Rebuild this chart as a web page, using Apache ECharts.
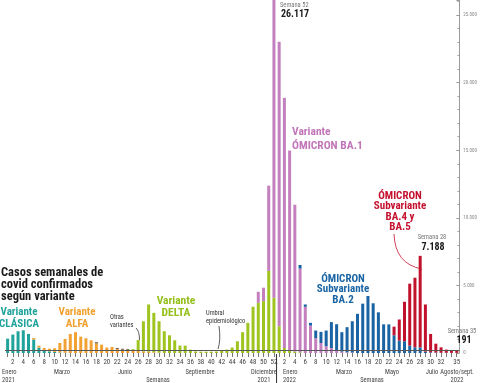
<!DOCTYPE html>
<html><head><meta charset="utf-8">
<script src="https://cdn.jsdelivr.net/npm/echarts@6/dist/echarts.min.js"></script>
<style>html,body{margin:0;padding:0;background:#fff}#c{width:480px;height:383px}</style>
</head><body><div id="c"></div>
<script>
// ---- Categories (ISO weeks) ----
const weeks2021 = ['1','2','3','4','5','6','7','8','9','10','11','12','13','14','15','16','17','18','19','20','21','22','23','24','25','26','27','28','29','30','31','32','33','34','35','36','37','38','39','40','41','42','43','44','45','46','47','48','49','50','51','52'];
const weeks2022 = ['1','2','3','4','5','6','7','8','9','10','11','12','13','14','15','16','17','18','19','20','21','22','23','24','25','26','27','28','29','30','31','32','33','34','35'];

// ---- Weekly cases by variant ----
const clasica2021 = [1060,1360,1610,1680,1410,1000,400,200,120,80, 40,20,0,0,0,0,0,0,0,0, 0,0,0,0,0,0,0,0,0,0, 0,0,0,0,0,0,0,0,0,0, 0,0,0,0,0,0,0,0,0,0, 0,0];
const clasica2022 = [0,0,0,0,0,0,0,0,0,0, 0,0,0,0,0,0,0,0,0,0, 0,0,0,0,0,0,0,0,0,0, 0,0,0,0,0];
const alfa2021 = [0,0,0,0,0,110,145,170,200,270, 700,1020,1410,1540,1210,1090,940,720,620,400, 450,300,250,220,180,150,120,100,60,30, 0,0,0,0,0,0,0,0,0,0, 0,0,0,0,0,0,0,0,0,0, 0,0];
const alfa2022 = [0,0,0,0,0,0,0,0,0,0, 0,0,0,0,0,0,0,0,0,0, 0,0,0,0,0,0,0,0,0,0, 0,0,0,0,0];
const otras2021 = [0,0,0,0,0,0,0,0,0,0, 0,0,0,0,0,0,0,70,0,0, 0,60,60,60,50,30,0,0,0,0, 0,0,0,0,0,0,0,0,0,0, 0,0,0,0,0,0,0,0,0,0, 0,0];
const otras2022 = [0,0,0,0,0,0,0,0,0,0, 0,0,0,0,0,0,0,0,0,0, 0,0,0,0,0,0,0,0,0,0, 0,0,0,0,0];
const delta2021 = [0,0,0,0,0,0,0,0,0,0, 0,0,0,0,0,0,0,0,0,0, 0,0,0,20,60,780,2230,3490,2910,2320, 1610,1310,940,545,545,250,120,100,100,100, 110,170,250,400,870,1540,2230,3420,3715,3840, 6070,4090];
const delta2022 = [1980,370,200,100,50,0,0,0,0,0, 0,0,0,0,0,0,0,0,0,0, 0,0,0,0,0,0,0,0,0,0, 0,0,0,0,0];
const ba1_2021 = [0,0,0,0,0,0,0,0,0,0, 0,0,0,0,0,0,0,0,0,0, 0,0,0,0,0,0,0,0,0,0, 0,0,0,0,0,0,0,0,0,0, 0,0,0,0,0,0,0,0,815,990, 6310,22027];
const ba1_2022 = [21050,18510,14780,10870,6190,3420,2030,1090,740,500, 370,200,100,50,30,0,0,0,0,0, 0,0,0,0,0,0,0,0,0,0, 0,0,0,0,0];
const ba2_2021 = [0,0,0,0,0,0,0,0,0,0, 0,0,0,0,0,0,0,0,0,0, 0,0,0,0,0,0,0,0,0,0, 0,0,0,0,0,0,0,0,0,0, 0,0,0,0,0,0,0,0,0,0, 0,0];
const ba2_2022 = [0,0,0,0,270,170,200,570,820,1160, 1920,1930,1440,1860,2320,2900,3650,4220,3680,3010, 2120,2120,1310,920,870,545,420,420,100,50, 30,20,15,12,11];
const ba45_2021 = [0,0,0,0,0,0,0,0,0,0, 0,0,0,0,0,0,0,0,0,0, 0,0,0,0,0,0,0,0,0,0, 0,0,0,0,0,0,0,0,0,0, 0,0,0,0,0,0,0,0,0,0, 0,0];
const ba45_2022 = [0,0,0,0,0,0,0,0,0,0, 0,0,0,0,0,0,0,0,0,0, 0,0,640,1560,2920,4585,5150,6768,3490,1360, 660,400,235,208,180];

const umbral = 200;
const yTicks = [0, 5000, 10000, 15000, 20000, 25000];

const FONT = '"Liberation Sans Narrow","Roboto Condensed","DejaVu Sans Condensed",sans-serif';
const categories = weeks2021.concat(weeks2022);
const nPrev = weeks2021.length;

const chart = echarts.init(document.getElementById('c'), null, {renderer: 'canvas'});

function bar(name, a, b, color) {
  return {
    name, type: 'bar', stack: 'total', data: a.concat(b), barWidth: 3,
    itemStyle: {color}, emphasis: {disabled: true}, animation: false
  };
}

const series = [
  bar('Clásica', clasica2021, clasica2022, '#1fa39b'),
  bar('Alfa', alfa2021, alfa2022, '#f2a235'),
  bar('Otras', otras2021, otras2022, '#4a3a2e'),
  bar('Delta', delta2021, delta2022, '#9fc420'),
  bar('BA.1', ba1_2021, ba1_2022, '#c47fbe'),
  bar('BA.2', ba2_2021, ba2_2022, '#1b64a3'),
  bar('BA.4/5', ba45_2021, ba45_2022, '#c1122d')
];
series[0].markLine = {
  silent: true, symbol: 'none', animation: false,
  lineStyle: {color: '#555', width: 1, type: 'solid'},
  label: {show: false},
  data: [{yAxis: umbral}]
};

function fmtThousands(v) {
  return String(v).replace(/\B(?=(\d{3})+(?!\d))/g, '.');
}

chart.setOption({
  animation: false,
  grid: {left: 5, right: 15, top: 0, bottom: 30, containLabel: false},
  xAxis: {
    type: 'category', data: categories, boundaryGap: true,
    axisLine: {show: false},
    axisTick: {show: true, interval: 0, length: 4, alignWithLabel: true, lineStyle: {color: '#777', width: 1}},
    axisLabel: {
      interval: 0, fontSize: 7, color: '#444', margin: 6, fontFamily: FONT,
      formatter: function (v, i) {
        const n = parseInt(v, 10);
        if (i < nPrev) return n % 2 === 0 ? String(n) : '';
        if (n === 35) return '35';
        return (n % 2 === 0 && n <= 32) ? String(n) : '';
      }
    }
  },
  yAxis: {
    type: 'value', position: 'right', min: 0, max: 26117, interval: 5000,
    axisLine: {show: true, lineStyle: {color: '#9a9a9a', width: 1}},
    axisTick: {show: true, inside: true, length: 3, lineStyle: {color: '#9a9a9a'}},
    minorTick: {show: true, splitNumber: 5, length: 2, lineStyle: {color: '#aaa'}},
    splitLine: {show: false},
    axisLabel: {
      fontSize: 5, color: '#888', margin: 4, fontFamily: FONT,
      formatter: function (v) { return yTicks.indexOf(v) >= 0 ? fmtThousands(v) : ''; }
    }
  },
  series: series
});

// ---- annotations ----
function T(x, y, text, size, color, opts) {
  opts = opts || {};
  return {
    type: 'text', x: x, y: y, silent: true, z: 100,
    style: {
      text: text, fill: color,
      font: (opts.bold ? 'bold ' : '') + size + 'px ' + FONT,
      textAlign: opts.align || 'left', textVerticalAlign: 'middle'
    }
  };
}
const g = [];
// title
g.push(T(1, 273, 'Casos semanales de', 12.5, '#1a1a1a', {bold: true}));
g.push(T(1, 285, 'covid confirmados', 12.5, '#1a1a1a', {bold: true}));
g.push(T(1, 297, 'según variante', 12.5, '#1a1a1a', {bold: true}));
// variant labels
const teal = '#1fa39b', orange = '#f0a02f', green = '#95bf1c', purple = '#c176b9', blue = '#1b65a5', red = '#c4122f';
g.push(T(19, 312, 'Variante', 11, teal, {bold: true, align: 'center'}));
g.push(T(19, 324, 'CLÁSICA', 11, teal, {bold: true, align: 'center'}));
g.push(T(77, 312, 'Variante', 11, orange, {bold: true, align: 'center'}));
g.push(T(77, 324, 'ALFA', 11, orange, {bold: true, align: 'center'}));
g.push(T(110, 317, 'Otras', 6.5, '#333'));
g.push(T(110, 325, 'variantes', 6.5, '#333'));
g.push(T(176, 301, 'Variante', 11.5, green, {bold: true, align: 'center'}));
g.push(T(176, 313, 'DELTA', 11.5, green, {bold: true, align: 'center'}));
g.push(T(206, 313, 'Umbral', 6.5, '#333'));
g.push(T(206, 321.5, 'epidemiológico', 6.5, '#333'));
g.push(T(292, 132, 'Variante', 11.5, purple, {bold: true}));
g.push(T(292, 146.5, 'ÓMICRON BA.1', 11.5, purple, {bold: true}));
g.push(T(280, 5, 'Semana 52', 6.5, '#777'));
g.push(T(281, 14.5, '26.117', 10, '#1a1a1a', {bold: true}));
g.push(T(343, 279, 'ÓMICRON', 11, blue, {bold: true, align: 'center'}));
g.push(T(343, 289.5, 'Subvariante', 11, blue, {bold: true, align: 'center'}));
g.push(T(343, 300, 'BA.2', 11, blue, {bold: true, align: 'center'}));
g.push(T(400, 196, 'ÓMICRON', 11, red, {bold: true, align: 'center'}));
g.push(T(400, 206.5, 'Subvariante', 11, red, {bold: true, align: 'center'}));
g.push(T(400, 217, 'BA.4 y', 11, red, {bold: true, align: 'center'}));
g.push(T(400, 227.5, 'BA.5', 11, red, {bold: true, align: 'center'}));
g.push(T(432, 237, 'Semana 28', 6.5, '#777', {align: 'center'}));
g.push(T(433, 247, '7.188', 10, '#1a1a1a', {bold: true, align: 'center'}));
g.push(T(462, 331, 'Semana 35', 6.5, '#777', {align: 'center'}));
g.push(T(464, 340.5, '191', 10, '#1a1a1a', {bold: true, align: 'center'}));
// month labels
const mc = '#444';
g.push(T(2, 372, 'Enero', 6.5, mc));
g.push(T(2, 380, '2021', 6.5, mc));
g.push(T(62, 372, 'Marzo', 6.5, mc, {align: 'center'}));
g.push(T(125, 372, 'Junio', 6.5, mc, {align: 'center'}));
g.push(T(158, 380, 'Semanas', 6.5, mc, {align: 'center'}));
g.push(T(200, 372, 'Septiembre', 6.5, mc, {align: 'center'}));
g.push(T(264, 372, 'Diciembre', 6.5, mc, {align: 'center'}));
g.push(T(264, 380, '2021', 6.5, mc, {align: 'center'}));
g.push(T(283, 372, 'Enero', 6.5, mc));
g.push(T(283, 380, '2022', 6.5, mc));
g.push(T(344, 372, 'Marzo', 6.5, mc, {align: 'center'}));
g.push(T(372, 380, 'Semanas', 6.5, mc, {align: 'center'}));
g.push(T(392, 372, 'Mayo', 6.5, mc, {align: 'center'}));
g.push(T(432, 372, 'Julio', 6.5, mc, {align: 'center'}));
g.push(T(457, 372, 'Agosto/sept.', 6.5, mc, {align: 'center'}));
g.push(T(457, 380, '2022', 6.5, mc, {align: 'center'}));
// connector lines
g.push({type: 'bezierCurve', silent: true, z: 100, shape: {x1: 136, y1: 328, cpx1: 139.5, cpy1: 331, x2: 139.5, y2: 340}, style: {stroke: '#333', lineWidth: 0.8, fill: null}});
g.push({type: 'bezierCurve', silent: true, z: 100, shape: {x1: 219, y1: 326, cpx1: 221, cpy1: 340, x2: 218, y2: 349}, style: {stroke: '#333', lineWidth: 0.8, fill: null}});
g.push({type: 'bezierCurve', silent: true, z: 100, shape: {x1: 394, y1: 234, cpx1: 395, cpy1: 264, x2: 422, y2: 269}, style: {stroke: red, lineWidth: 0.8, fill: null}});
// year separator, between last week of 2021 and first of 2022
const xa = chart.convertToPixel({xAxisIndex: 0}, nPrev - 1);
const xb = chart.convertToPixel({xAxisIndex: 0}, nPrev);
const xs = (xa + xb) / 2;
const y0 = chart.convertToPixel({yAxisIndex: 0}, 0);
g.push({type: 'line', silent: true, z: 100, shape: {x1: xs, y1: y0 + 1, x2: xs, y2: 383}, style: {stroke: '#333', lineWidth: 1}});

chart.setOption({graphic: g});
</script>
</body></html>
